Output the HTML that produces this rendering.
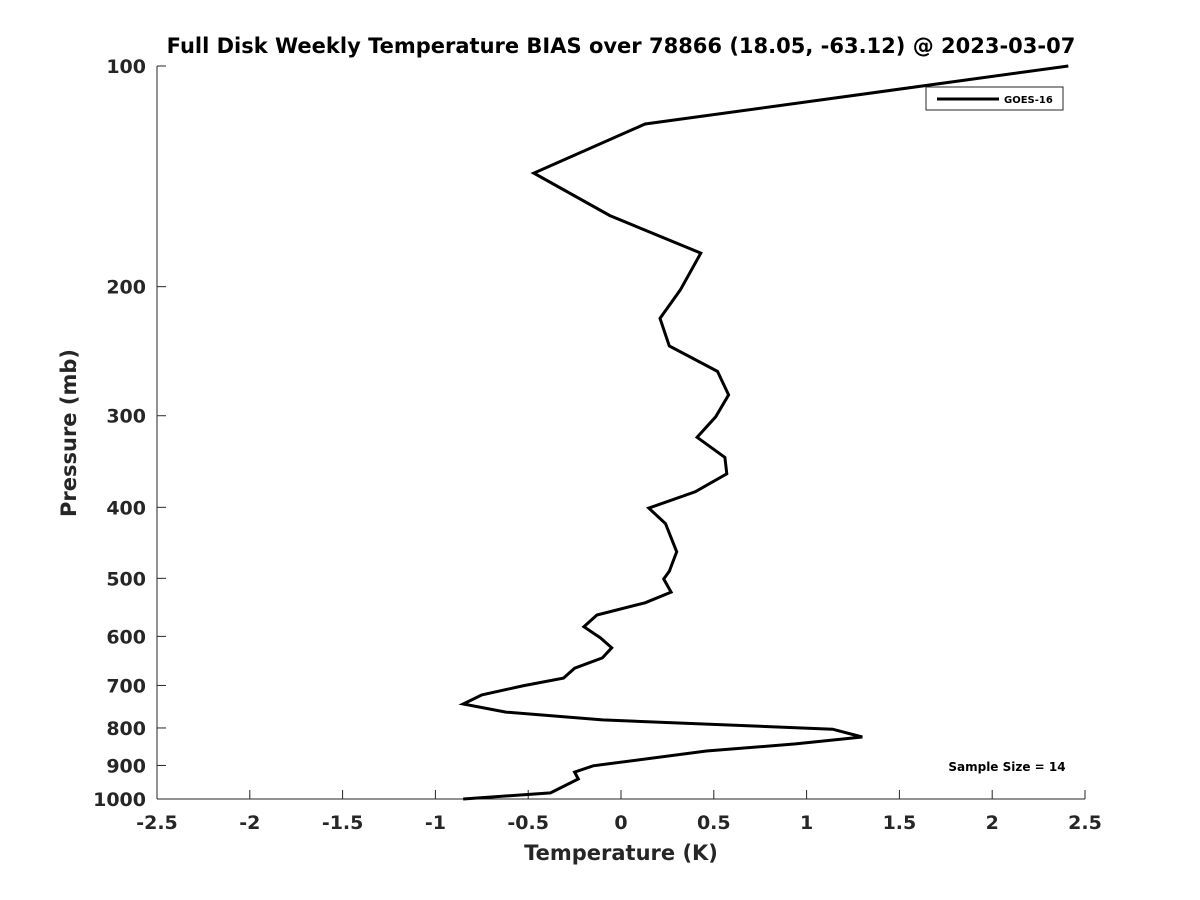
<!DOCTYPE html>
<html><head><meta charset="utf-8"><style>
body{margin:0;background:#fff}
svg{display:block;font-family:"DejaVu Sans","Liberation Sans",sans-serif}
</style></head><body>
<svg id="chart" width="1200" height="900" viewBox="0 0 1200 900">
<rect width="1200" height="900" fill="#fff"/>
<text x="621" y="53" text-anchor="middle" font-size="21" font-weight="bold" fill="#000">Full Disk Weekly Temperature BIAS over 78866 (18.05, -63.12) @ 2023-03-07</text>
<g id="axes"></g>
<text x="621" y="860" text-anchor="middle" font-size="21" font-weight="bold" fill="#262626">Temperature (K)</text>
<text transform="translate(76,433) rotate(-90)" text-anchor="middle" font-size="21" font-weight="bold" fill="#262626">Pressure (mb)</text>
<g>
<rect x="926" y="87" width="137" height="23" fill="#fff" stroke="#262626" stroke-width="1"/>
<line x1="937" y1="99" x2="999" y2="99" stroke="#000" stroke-width="3"/>
<text x="1004" y="103" font-size="10" font-weight="bold" fill="#000">GOES-16</text>
</g>
<text x="1007" y="771" text-anchor="middle" font-size="12" font-weight="bold" fill="#000">Sample Size = 14</text>
</svg>
<script>
const temps=[2.41,0.13,-0.47,-0.06,0.43,0.32,0.21,0.26,0.52,0.58,0.51,0.41,0.56,0.57,0.40,0.15,0.24,0.30,0.26,0.23,0.27,0.13,-0.13,-0.20,-0.11,-0.05,-0.10,-0.25,-0.31,-0.53,-0.75,-0.85,-0.62,-0.10,1.14,1.30,0.94,0.46,-0.15,-0.25,-0.23,-0.38,-0.85];
const pressures=[100,120,140,160,180,202,221,241,261,281,301,321,342,360,381,401,421,460,489,501,522,540,561,582,603,622,642,663,684,701,721,742,761,780,803,823,841,860,901,919,939,981,1000];
const xTicks=[-2.5,-2,-1.5,-1,-0.5,0,0.5,1,1.5,2,2.5];
const yTicks=[100,200,300,400,500,600,700,800,900,1000];
const X0=157,X1=1085,Y0=66,Y1=799;
function xs(v){return X0+(v+2.5)/5*(X1-X0);}
function ys(p){return Y0+Math.log10(p/100)*(Y1-Y0);}
const NS="http://www.w3.org/2000/svg";
const g=document.getElementById('axes');
function mk(t,a){const e=document.createElementNS(NS,t);for(const k in a)e.setAttribute(k,a[k]);return e;}
let l=mk('line',{x1:X0,y1:Y0,x2:X0,y2:Y1,stroke:'#262626','stroke-width':1});


g.appendChild(l);
l=mk('line',{x1:X0,y1:Y1,x2:X1,y2:Y1,stroke:'#262626','stroke-width':1});


g.appendChild(l);
xTicks.forEach(v=>{
 const x=xs(v);
 const t=mk('line',{x1:x,y1:Y1,x2:x,y2:Y1-9,stroke:'#262626'});
 
 
 g.appendChild(t);
 const tx=mk('text',{x:x,y:829,'text-anchor':'middle','font-size':19,'font-weight':'bold',fill:'#262626'});
 
 
 tx.textContent=String(v);
 g.appendChild(tx);
});
yTicks.forEach(p=>{
 const y=ys(p);
 const t=mk('line',{x1:X0,y1:y,x2:X0+9,y2:y,stroke:'#262626'});
 
 
 g.appendChild(t);
 const tx=mk('text',{x:146,y:y+7,'text-anchor':'end','font-size':19,'font-weight':'bold',fill:'#262626'});
 
 
 tx.textContent=String(p);
 g.appendChild(tx);
});
const pts=temps.map((t,i)=>xs(t).toFixed(1)+','+ys(pressures[i]).toFixed(1)).join(' ');
const pl=mk('polyline',{points:pts,fill:'none',stroke:'#000','stroke-width':3,'stroke-linejoin':'miter'});


g.appendChild(pl);
</script>
</body></html>
